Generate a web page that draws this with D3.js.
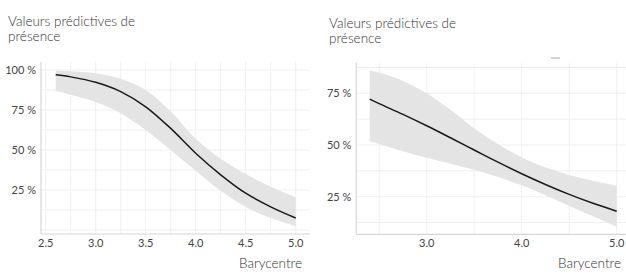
<!DOCTYPE html>
<html><head><meta charset="utf-8">
<script src="https://cdn.jsdelivr.net/npm/d3@7"></script>
<style>
body{margin:0;background:#fff;}
svg text{font-family:Lato,"Open Sans",sans-serif;}
</style></head>
<body><svg id="c" width="626" height="275"></svg>
<script>
// ---- Data ----
const titleLines = ["Valeurs prédictives de", "présence"];
const xLabel = "Barycentre";

const leftX     = [2.6, 2.75, 3.0, 3.25, 3.5, 3.75, 4.0, 4.25, 4.5, 4.75, 5.0];
const leftFit   = [97, 95.7, 92.3, 86.5, 77, 63.5, 48, 34.5, 23, 14.5, 7.5];
const leftUpper = [99.5, 99.2, 98, 94.5, 87.5, 74, 57, 44.5, 35, 27, 20.5];
const leftLower = [87, 84.5, 80, 73, 62.5, 50, 37, 24.5, 14.5, 7.5, 2.5];
const leftXTicks = [2.5, 3.0, 3.5, 4.0, 4.5, 5.0];
const leftXGrid  = [2.5, 2.75, 3.0, 3.25, 3.5, 3.75, 4.0, 4.25, 4.5, 4.75, 5.0];
const leftYTicks = [25, 50, 75, 100];
const leftYGrid  = [0, 12.5, 25, 37.5, 50, 62.5, 75, 87.5, 100];

const rightX     = [2.4, 2.5, 2.75, 3.0, 3.25, 3.5, 3.75, 4.0, 4.25, 4.5, 4.75, 5.0];
const rightFit   = [72.2, 70, 64.8, 59.3, 53.5, 47.6, 41.7, 36.1, 30.9, 26.1, 21.8, 18];
const rightUpper = [86, 85, 81, 75, 67, 58, 50.5, 44, 39.2, 35.5, 32.7, 30.3];
const rightLower = [51.8, 50.5, 47, 43.8, 40.9, 38, 34.5, 30.5, 25.7, 20.5, 15.5, 10.5];
const rightXTicks = [3.0, 4.0, 5.0];
const rightXGrid  = [2.5, 3.0, 3.5, 4.0, 4.5, 5.0];
const rightYTicks = [25, 50, 75];
const rightYGrid  = [12.5, 25, 37.5, 50, 62.5, 75, 87.5];

const svg = d3.select("#c");

function panel(cfg){
  const g = svg.append("g");
  const x = d3.scaleLinear().domain(cfg.xDom).range(cfg.xRange);
  const y = d3.scaleLinear().domain([0,100]).range(cfg.yRange);
  const [L,R,T,B] = cfg.box;
  const clipId = "clip"+cfg.id;
  g.append("clipPath").attr("id",clipId).append("rect")
    .attr("x",L).attr("y",T).attr("width",R-L).attr("height",B-T);
  const grid = g.append("g").attr("clip-path",`url(#${clipId})`);
  grid.selectAll("line.v").data(cfg.xGrid).join("line")
    .attr("x1",d=>x(d)).attr("x2",d=>x(d)).attr("y1",T).attr("y2",B)
    .attr("stroke","#efefef").attr("stroke-width",1);
  grid.selectAll("line.h").data(cfg.yGrid).join("line")
    .attr("y1",d=>y(d)).attr("y2",d=>y(d)).attr("x1",L).attr("x2",R)
    .attr("stroke","#efefef").attr("stroke-width",1);

  const pts = cfg.xs.map((d,i)=>({x:d,f:cfg.fit[i],lo:cfg.lower[i],hi:cfg.upper[i]}));
  g.append("path").datum(pts)
    .attr("d",d3.area().x(d=>x(d.x)).y0(d=>y(d.lo)).y1(d=>y(d.hi)).curve(d3.curveCatmullRom))
    .attr("fill","#e4e4e4");
  g.append("path").datum(pts)
    .attr("d",d3.line().x(d=>x(d.x)).y(d=>y(d.f)).curve(d3.curveCatmullRom))
    .attr("fill","none").attr("stroke","#1a1a1a").attr("stroke-width",1.5);

  // axes lines
  g.append("line").attr("x1",L).attr("x2",L).attr("y1",T).attr("y2",B)
    .attr("stroke","#d6d6d6").attr("stroke-width",1.2);
  g.append("line").attr("x1",L).attr("x2",R).attr("y1",B).attr("y2",B)
    .attr("stroke","#d6d6d6").attr("stroke-width",1.2);

  g.selectAll("text.xt").data(cfg.xTicks).join("text")
    .attr("x",d=>x(d)).attr("y",B+13).attr("text-anchor","middle")
    .attr("font-size",11).attr("fill","#444").text(d=>d.toFixed(1));
  g.selectAll("text.yt").data(cfg.yTicks).join("text")
    .attr("x",L-5).attr("y",d=>y(d)).attr("dy","0.35em").attr("text-anchor","end")
    .attr("font-size",11).attr("fill","#444").text(d=>d+" %");

  g.append("text").attr("x",cfg.xLabX).attr("y",268).attr("text-anchor","end")
    .attr("font-size",13.5).attr("font-weight",300).attr("fill","#333").text(xLabel);
  g.selectAll("text.t").data(titleLines).join("text")
    .attr("x",cfg.titleX).attr("y",(d,i)=>cfg.titleY+i*14.5)
    .attr("font-size",13.5).attr("font-weight",300).attr("fill","#333").text(d=>d);
  return {x,y};
}

panel({id:"L", xDom:[2.5,5.0], xRange:[45.7,295.7], yRange:[230,70],
  box:[41,310,62,234], xs:leftX, fit:leftFit, upper:leftUpper, lower:leftLower,
  xGrid:leftXGrid, yGrid:leftYGrid, xTicks:leftXTicks, yTicks:leftYTicks,
  xLabX:302, titleX:8, titleY:26});

panel({id:"R", xDom:[3.0,5.0], xRange:[426.7,616.7], yRange:[248.4,41.6],
  box:[356.3,626,62.7,234.3], xs:rightX, fit:rightFit, upper:rightUpper, lower:rightLower,
  xGrid:rightXGrid, yGrid:rightYGrid, xTicks:rightXTicks, yTicks:rightYTicks,
  xLabX:621, titleX:329, titleY:28});

// small stray mark near top of right panel
svg.append("line").attr("x1",551).attr("x2",560).attr("y1",58).attr("y2",58)
  .attr("stroke","#aaa").attr("stroke-width",1);
</script></body></html>
